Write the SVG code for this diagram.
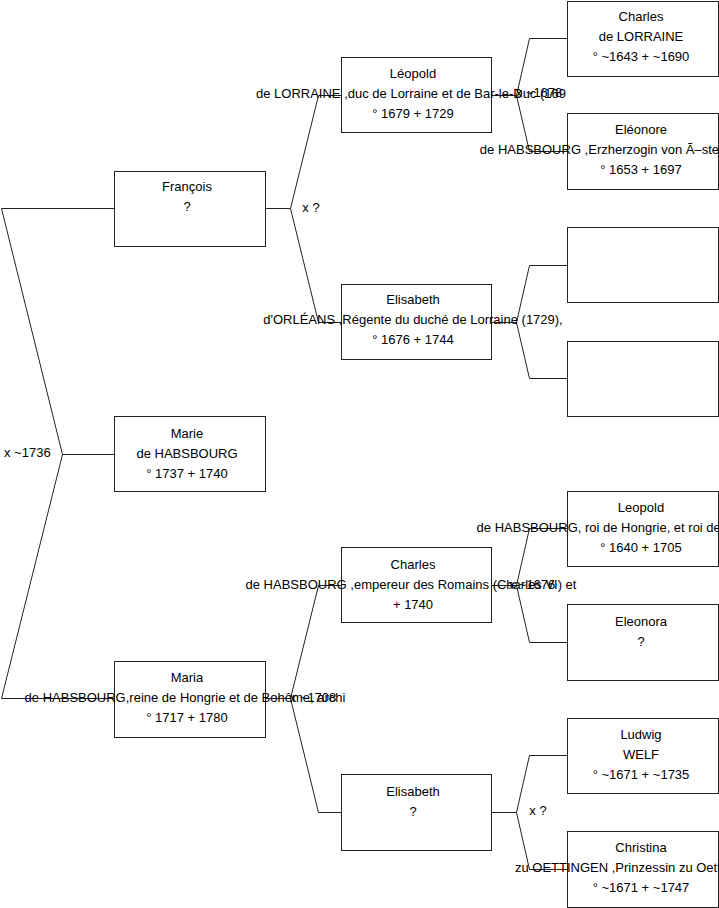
<svg xmlns="http://www.w3.org/2000/svg" width="719" height="908" viewBox="0 0 719 908">
<style>
.box{fill:#fff;stroke:#222;stroke-width:1}
.c{fill:none;stroke:#222;stroke-width:1}
text{font-family:"Liberation Sans",Arial,sans-serif;font-size:13px;fill:#000}
.m{text-anchor:middle}
</style>
<rect width="719" height="908" fill="#fff"/>
<g id="connectors">
<polyline class="c" points="114.5,208.5 1.5,208.5 62.5,454.5 114.5,454.5"/>
<polyline class="c" points="62.5,454.5 1.5,698.5 114.5,698.5"/>
<polyline class="c" points="265.5,208.5 290.5,208.5 318.5,95.5 341.5,95.5"/>
<polyline class="c" points="290.5,208.5 318.5,322.5 341.5,322.5"/>
<polyline class="c" points="265.5,698.5 290.5,698.5 318.5,585.5 341.5,585.5"/>
<polyline class="c" points="290.5,698.5 318.5,812.5 341.5,812.5"/>
<polyline class="c" points="491.5,95.5 516.5,95.5 529.5,38.5 567.5,38.5"/>
<polyline class="c" points="516.5,95.5 529.5,151.5 567.5,151.5"/>
<polyline class="c" points="491.5,322.5 516.5,322.5 529.5,265.5 567.5,265.5"/>
<polyline class="c" points="516.5,322.5 529.5,378.5 567.5,378.5"/>
<polyline class="c" points="491.5,585.5 516.5,585.5 529.5,528.5 567.5,528.5"/>
<polyline class="c" points="516.5,585.5 529.5,642.5 567.5,642.5"/>
<polyline class="c" points="491.5,812.5 516.5,812.5 529.5,755.5 567.5,755.5"/>
<polyline class="c" points="516.5,812.5 529.5,869.5 567.5,869.5"/>
<text x="4" y="457">x ~1736</text>
<text class="m" x="311" y="212">x ?</text>
<text class="m" x="313" y="702">x ~1708</text>
<text class="m" x="539" y="97">x ~1678</text>
<text class="m" x="532" y="589">x ~1676</text>
<text class="m" x="538" y="815">x ?</text>
</g>
<g id="francois">
<rect class="box" x="114.5" y="171.5" width="151" height="75"/>
<text class="m" x="187" y="191">François</text>
<text class="m" x="187" y="211">?</text>
</g>
<g id="marie">
<rect class="box" x="114.5" y="416.5" width="151" height="75"/>
<text class="m" x="187" y="438">Marie</text>
<text class="m" x="187" y="458">de HABSBOURG</text>
<text class="m" x="187" y="478">° 1737 + 1740</text>
</g>
<g id="maria">
<rect class="box" x="114.5" y="661.5" width="151" height="76"/>
<text class="m" x="187" y="682">Maria</text>
<text class="m" x="185" y="702">de HABSBOURG,reine de Hongrie et de Bohême, archi</text>
<text class="m" x="187" y="722">° 1717 + 1780</text>
</g>
<g id="leopold">
<rect class="box" x="341.5" y="57.5" width="150" height="75"/>
<text class="m" x="413" y="78">Léopold</text>
<text class="m" x="411" y="98">de LORRAINE ,duc de Lorraine et de Bar-le-Duc (169</text>
<text class="m" x="413" y="118">° 1679 + 1729</text>
</g>
<g id="elisabeth-orleans">
<rect class="box" x="341.5" y="284.5" width="150" height="75"/>
<text class="m" x="413" y="304">Elisabeth</text>
<text class="m" x="413" y="324">d'ORLÉANS ,Régente du duché de Lorraine (1729),</text>
<text class="m" x="413" y="344">° 1676 + 1744</text>
</g>
<g id="charles-vi">
<rect class="box" x="341.5" y="547.5" width="150" height="75"/>
<text class="m" x="413" y="569">Charles</text>
<text class="m" x="411" y="589">de HABSBOURG ,empereur des Romains (Charles VI) et</text>
<text class="m" x="413" y="609">+ 1740</text>
</g>
<g id="elisabeth">
<rect class="box" x="341.5" y="774.5" width="150" height="76"/>
<text class="m" x="413" y="796">Elisabeth</text>
<text class="m" x="413" y="816">?</text>
</g>
<g id="charles-lorraine">
<rect class="box" x="567.5" y="1.5" width="151" height="75"/>
<text class="m" x="641" y="21">Charles</text>
<text class="m" x="641" y="41">de LORRAINE</text>
<text class="m" x="641" y="61">° ~1643 + ~1690</text>
</g>
<g id="eleonore">
<rect class="box" x="567.5" y="113.5" width="151" height="76"/>
<text class="m" x="641" y="134">Eléonore</text>
<text class="m" x="641" y="154">de HABSBOURG ,Erzherzogin von Ã–sterreich ,Königin</text>
<text class="m" x="641" y="174">° 1653 + 1697</text>
</g>
<g id="empty1">
<rect class="box" x="567.5" y="227.5" width="151" height="75"/>
</g>
<g id="empty2">
<rect class="box" x="567.5" y="341.5" width="151" height="75"/>
</g>
<g id="leopold-i">
<rect class="box" x="567.5" y="491.5" width="151" height="75"/>
<text class="m" x="641" y="512">Leopold</text>
<text class="m" x="641" y="532">de HABSBOURG, roi de Hongrie, et roi de Bohême, emp</text>
<text class="m" x="641" y="552">° 1640 + 1705</text>
</g>
<g id="eleonora">
<rect class="box" x="567.5" y="604.5" width="151" height="76"/>
<text class="m" x="641" y="626">Eleonora</text>
<text class="m" x="641" y="646">?</text>
</g>
<g id="ludwig">
<rect class="box" x="567.5" y="718.5" width="151" height="75"/>
<text class="m" x="641" y="739">Ludwig</text>
<text class="m" x="641" y="759">WELF</text>
<text class="m" x="641" y="779">° ~1671 + ~1735</text>
</g>
<g id="christina">
<rect class="box" x="567.5" y="831.5" width="151" height="76"/>
<text class="m" x="641" y="852">Christina</text>
<text class="m" x="641" y="872">zu OETTINGEN ,Prinzessin zu Oettingen-O</text>
<text class="m" x="641" y="892">° ~1671 + ~1747</text>
</g>
</svg>
